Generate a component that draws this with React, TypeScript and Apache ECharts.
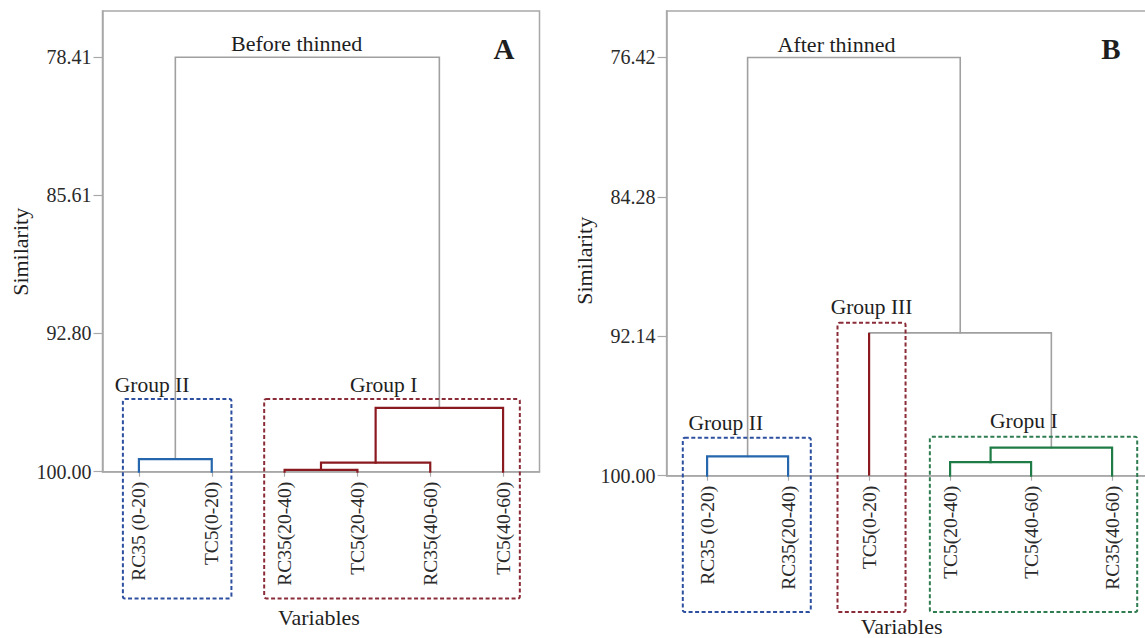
import React, { useEffect, useRef } from "react";
import * as echarts from "echarts";

// ---------- DATA ----------
// Panel A: before thinned
const leavesA = ["RC35 (0-20)", "TC5(0-20)", "RC35(20-40)", "TC5(20-40)", "RC35(40-60)", "TC5(40-60)"];
const ticksA = [78.41, 85.61, 92.8, 100.0];
// merges: [leftNode, rightNode, similarity]; nodes 0..5 are leaves, 6+ are merges in order
const mergesA: [number, number, number][] = [
  [2, 3, 99.91],
  [6, 4, 99.53],
  [7, 5, 96.67],
  [0, 1, 99.34],
  [9, 8, 78.41],
];
const mergeColorsA = ["red", "red", "red", "blue", "gray"];
const leftLegColorsA: (string | null)[] = [null, null, null, null, null];
const groupNamesA = ["Group II", "Group I"];

// Panel B: after thinned
const leavesB = ["RC35 (0-20)", "RC35(20-40)", "TC5(0-20)", "TC5(20-40)", "TC5(40-60)", "RC35(40-60)"];
const ticksB = [76.42, 84.28, 92.14, 100.0];
const mergesB: [number, number, number][] = [
  [0, 1, 98.91],
  [3, 4, 99.24],
  [7, 5, 98.42],
  [2, 8, 91.95],
  [6, 9, 76.42],
];
const mergeColorsB = ["blue", "green", "green", "gray", "gray"];
const leftLegColorsB: (string | null)[] = [null, null, null, "red", null];
const groupNamesB = ["Group II", "Group III", "Gropu I"];

// ---------- STYLE / LAYOUT ----------
const FONT = '"Liberation Serif", "Times New Roman", serif';
const TEXT = "#1e1e1e";
const FRAME = "#a8a8a8";
const LINE: Record<string, string> = { gray: "#a0a0a0", blue: "#2566ad", red: "#8a1a1f", green: "#1f7c46" };
const BOX: Record<string, string> = { blue: "#2c4f9f", red: "#8a2c38", green: "#2e7c50" };

const boxesA = [
  { x0: 0.78, x1: 2.27, y0: 96.21, y1: 106.6, color: "blue", lx: 1.18, ly: 95.5 },
  { x0: 2.72, x1: 6.23, y0: 96.21, y1: 106.6, color: "red", lx: 4.36, ly: 95.5 },
];
const boxesB = [
  { x0: 0.7, x1: 2.28, y0: 97.86, y1: 107.68, color: "blue", lx: 1.23, ly: 97.03 },
  { x0: 2.61, x1: 3.45, y0: 91.38, y1: 107.68, color: "red", lx: 3.03, ly: 90.47 },
  { x0: 3.75, x1: 6.31, y0: 97.8, y1: 107.68, color: "green", lx: 4.91, ly: 96.92 },
];

function nodePositions(merges: [number, number, number][], n: number) {
  const pos: [number, number][] = [];
  for (let i = 0; i < n; i++) pos.push([i + 1, 100]);
  merges.forEach(([a, b, h]) => pos.push([(pos[a][0] + pos[b][0]) / 2, h]));
  return pos;
}

function buildSeries(
  merges: [number, number, number][],
  n: number,
  colors: string[],
  leftLeg: (string | null)[],
  g: number
) {
  const pos = nodePositions(merges, n);
  const out: any[] = [];
  merges.forEach(([a, b, h], i) => {
    const [xa, ya] = pos[a];
    const [xb, yb] = pos[b];
    const isGray = colors[i] === "gray";
    const base = {
      type: "line",
      xAxisIndex: g,
      yAxisIndex: g,
      symbol: "none",
      silent: true,
      clip: false,
      z: isGray ? 2 : 3,
    };
    const ls = { color: LINE[colors[i]], width: isGray ? 1.6 : 2.2, cap: "square", join: "miter" };
    if (leftLeg[i]) {
      out.push({ ...base, z: 3, data: [[xa, ya], [xa, h]], lineStyle: { color: LINE[leftLeg[i] as string], width: 2.2 } });
      out.push({ ...base, data: [[xa, h], [xb, h], [xb, yb]], lineStyle: ls });
    } else {
      out.push({ ...base, data: [[xa, ya], [xa, h], [xb, h], [xb, yb]], lineStyle: ls });
    }
  });
  return out;
}

const leafIdx = [1, 2, 3, 4, 5, 6];

function xAxisCfg(g: number, leaves: string[], gap: number, pad: number) {
  return {
    gridIndex: g,
    type: "value",
    min: 0.5,
    max: 6.5,
    position: "bottom",
    axisLine: { show: true, onZero: false, lineStyle: { color: FRAME, width: 1.5 } },
    axisTick: { show: true, customValues: leafIdx, length: 5, lineStyle: { color: FRAME, width: 1.2 } },
    axisLabel: {
      customValues: leafIdx,
      rotate: 90,
      margin: 10,
      formatter: (v: number) => leaves[Math.round(v) - 1] ?? "",
      fontSize: 19.5,
      fontFamily: FONT,
      color: "#2a2a2a",
    },
    splitLine: { show: false },
    name: "Variables",
    nameLocation: "middle",
    nameGap: gap,
    nameTextStyle: { fontSize: 22, fontFamily: FONT, color: TEXT, padding: [0, pad, 0, 0] },
  };
}

function yAxisCfg(g: number, ticks: number[], min: number, pad: number) {
  return {
    gridIndex: g,
    type: "value",
    inverse: true,
    min,
    max: 100,
    axisLine: { show: true, lineStyle: { color: FRAME, width: 1.5 } },
    axisTick: { show: true, customValues: ticks, length: 9, lineStyle: { color: FRAME, width: 1.2 } },
    axisLabel: {
      customValues: ticks,
      formatter: (v: number) => v.toFixed(2),
      margin: 11,
      fontSize: 20,
      fontFamily: FONT,
      color: "#2a2a2a",
    },
    splitLine: { show: false },
    name: "Similarity",
    nameLocation: "middle",
    nameGap: 71,
    nameTextStyle: { fontSize: 22, fontFamily: FONT, color: TEXT, padding: [0, pad, 0, 0] },
  };
}

export default function App() {
  const ref = useRef<HTMLDivElement>(null);
  useEffect(() => {
    if (!ref.current) return;
    const chart = echarts.init(ref.current, undefined, { renderer: "svg" });
    chart.setOption({
      animation: false,
      backgroundColor: "#ffffff",
      grid: [
        {
          left: 102.5,
          top: 11,
          width: 437,
          height: 460.7,
          show: true,
          borderColor: FRAME,
          borderWidth: 1.5,
          outerBoundsMode: "none",
          containLabel: false,
        },
        {
          left: 666.6,
          top: 11,
          width: 486,
          height: 464.7,
          show: true,
          borderColor: FRAME,
          borderWidth: 1.5,
          outerBoundsMode: "none",
          containLabel: false,
        },
      ],
      xAxis: [xAxisCfg(0, leavesA, 135, 4), xAxisCfg(1, leavesB, 140, 16)],
      yAxis: [yAxisCfg(0, ticksA, 76.0, 21), yAxisCfg(1, ticksB, 73.8, 35)],
      series: [
        ...buildSeries(mergesA, leavesA.length, mergeColorsA, leftLegColorsA, 0),
        ...buildSeries(mergesB, leavesB.length, mergeColorsB, leftLegColorsB, 1),
      ],
    });

    const px = (g: number, x: number, y: number) => chart.convertToPixel({ gridIndex: g } as any, [x, y]) as number[];
    const graphics: any[] = [];
    const addBoxes = (g: number, boxes: typeof boxesA, names: string[]) => {
      boxes.forEach((b, i) => {
        const p0 = px(g, b.x0, b.y0);
        const p1 = px(g, b.x1, b.y1);
        graphics.push({
          type: "rect",
          silent: true,
          z: 10,
          shape: { x: p0[0], y: p0[1], width: p1[0] - p0[0], height: p1[1] - p0[1], r: 2 },
          style: { fill: "none", stroke: BOX[b.color], lineWidth: 2, lineDash: [4, 2.5] },
        });
        const lp = px(g, b.lx, b.ly);
        graphics.push({
          type: "text",
          silent: true,
          z: 11,
          x: lp[0],
          y: lp[1],
          style: { text: names[i], fill: TEXT, fontSize: 21.5, fontFamily: FONT, align: "center", verticalAlign: "middle" },
        });
      });
    };
    addBoxes(0, boxesA, groupNamesA);
    addBoxes(1, boxesB, groupNamesB);
    const title = (text: string, x: number, y: number, bold = false, size = 22) =>
      graphics.push({
        type: "text",
        silent: true,
        z: 11,
        x,
        y,
        style: {
          text,
          fill: TEXT,
          fontSize: size,
          fontWeight: bold ? "bold" : "normal",
          fontFamily: FONT,
          align: "center",
          verticalAlign: "middle",
        },
      });
    title("Before thinned", 296.7, 43);
    title("After thinned", 836.5, 44);
    title("A", 504, 48.5, true, 29);
    title("B", 1111, 48.5, true, 29);
    chart.setOption({ graphic: graphics });

    return () => chart.dispose();
  }, []);
  return <div ref={ref} style={{ position: "fixed", left: 0, top: 0, width: 1145, height: 638 }} />;
}
